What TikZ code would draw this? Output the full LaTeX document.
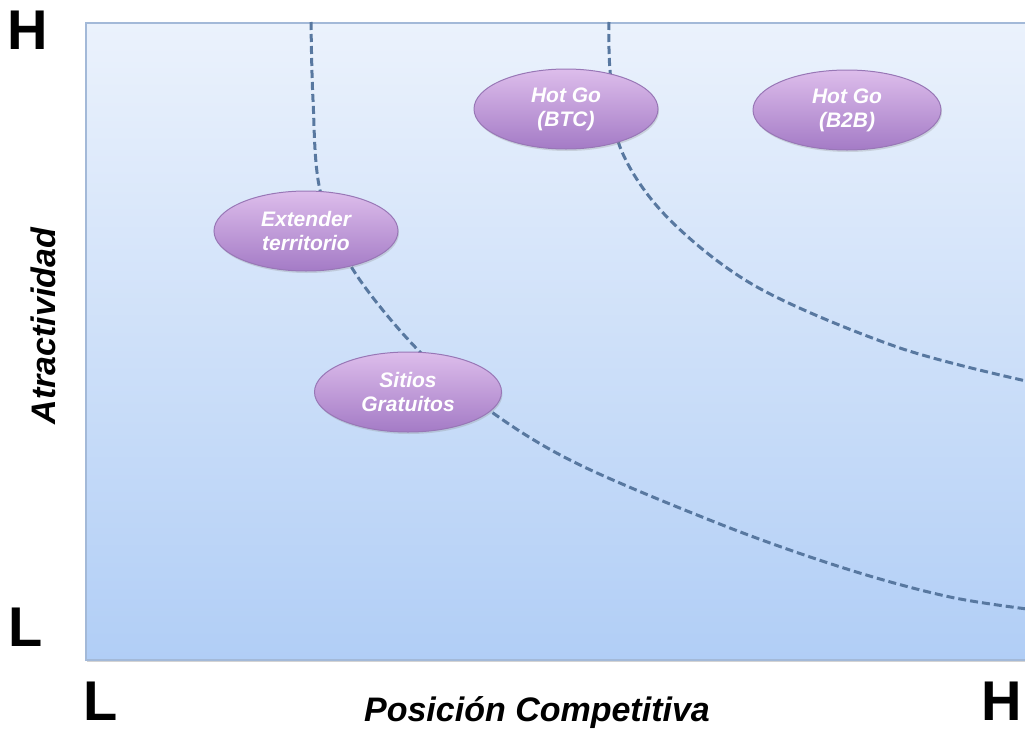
\documentclass[tikz,border=0pt]{standalone}
\usepackage{fontspec}
\setmainfont{Liberation Sans}
\usetikzlibrary{shapes.geometric, shadows, positioning}

\definecolor{panetop}{HTML}{EBF2FC}
\definecolor{panebot}{HTML}{B1CEF6}
\definecolor{paneedge}{HTML}{A3B9D8}
\definecolor{blobtop}{HTML}{DDBDEB}
\definecolor{blobbot}{HTML}{A47BC6}
\definecolor{blobedge}{HTML}{9877B6}
\definecolor{frontier}{HTML}{5878A0}

\tikzset{
  pane/.style={top color=panetop, bottom color=panebot, draw=paneedge, line width=1.5pt,
    drop shadow={shadow xshift=1pt, shadow yshift=-2pt, opacity=.35}},
  blob/.style={ellipse, draw=blobedge, line width=1pt, top color=blobtop, bottom color=blobbot,
    minimum width=184pt, minimum height=80pt, inner sep=0pt, align=center, text=white,
    font=\bfseries\itshape\fontsize{21}{24}\selectfont,
    drop shadow={shadow xshift=1pt, shadow yshift=-2pt, opacity=.25}},
  frontier/.style={draw=frontier, line width=3pt, dash pattern=on 8pt off 4pt},
  corner/.style={font=\bfseries\fontsize{56}{56}\selectfont, inner sep=0pt},
  axis/.style={font=\bfseries\itshape\fontsize{34}{34}\selectfont, inner sep=0pt, anchor=base}
}

\begin{document}
\begin{tikzpicture}[x=1pt, y=-1pt]
  \useasboundingbox (0,0) rectangle (1025,731);
  \clip (0,0) rectangle (1025,731);

  % background panel
  \path[pane] (86,23) rectangle (1045,660);

  % frontier lines
  \draw[frontier] plot[smooth, tension=0.55] coordinates {(311,22) (313,100) (320,190) (352,268) (418,350) (493,413) (580,465) (730,528) (850,570) (950,597) (1035,610)};
  \draw[frontier] plot[smooth, tension=0.55] coordinates {(609,22) (610,70) (620,147) (667,217) (757,287) (900,348) (1035,383)};

  % business units
  \node[blob] (extender) at (306,231) {Extender\\territorio};
  \node[blob] (btc) at (566,109) {Hot Go\\(BTC)};
  \node[blob, minimum width=188pt] (btob) at (847,110) {Hot Go\\(B2B)};
  \node[blob, minimum width=187pt] (sitios) at (408,392) {Sitios\\Gratuitos};

  % axis labels
  \node[corner] (yhigh) at (28,30) {H};
  \node[corner] (ylow) at (26,627) {L};
  \node[corner] (xlow) at (101,701) {L};
  \node[corner] (xhigh) at (1002,701) {H};
  \node[axis, rotate=90] (ylabel) at (55,326) {Atractividad};
  \node[axis] (xlabel) at (537,721) {Posición Competitiva};
\end{tikzpicture}
\end{document}
